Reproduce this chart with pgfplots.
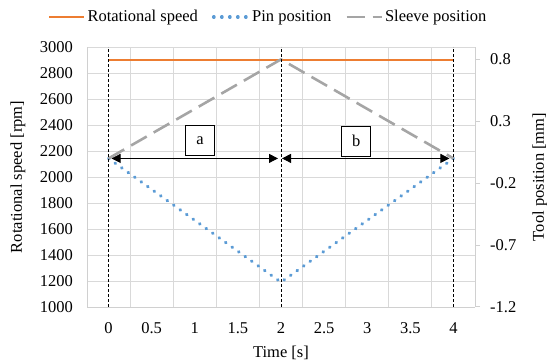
\documentclass[border=0pt]{standalone}
\usepackage{fontspec}
\setmainfont{Liberation Serif}
\usepackage{pgfplots}
\pgfplotsset{compat=1.18}
\usetikzlibrary{arrows.meta}
\definecolor{cOrange}{HTML}{ED7D31}
\definecolor{cBlue}{HTML}{5B9BD5}
\definecolor{cGray}{HTML}{A5A5A5}
\definecolor{cGrid}{HTML}{D9D9D9}
\definecolor{cAxis}{HTML}{D0D0D0}
\newcommand{\chartfont}{\fontsize{16.5bp}{19.8bp}\selectfont}
\begin{document}
\begin{tikzpicture}[font=\chartfont]
\useasboundingbox (0,0) rectangle (547bp,363bp);
\pgfplotsset{
  base/.style={
    scale only axis, width=388bp, height=260bp,
    at={(87bp,56bp)}, anchor=south west,
    xmin=-0.25, xmax=4.25,
    /pgf/number format/assume math mode=true,
    /pgf/number format/1000 sep={},
    ticklabel style={font=\chartfont},
    label style={font=\chartfont},
    axis line style={draw=cAxis, line width=1bp, -},
  }
}
\begin{axis}[base,
  axis x line*=bottom, axis y line*=left,
  ymin=1000, ymax=3000, ytick={1000,1200,...,3000},
  xtick={0,0.5,1,1.5,2,2.5,3,3.5,4},
  minor xtick={0.25,0.75,1.25,1.75,2.25,2.75,3.25,3.75},
  xminorgrids, ymajorgrids,
  grid style={draw=cGrid, line width=0.9bp},
  minor grid style={draw=cGrid, line width=0.9bp},
  major tick length=0pt, minor tick length=0pt,
  xticklabel style={inner sep=0pt, anchor=north}, xticklabel shift=15bp,
  yticklabel style={inner sep=0pt, anchor=east}, yticklabel shift=14bp,
  xlabel={Time [s]}, ylabel={Rotational speed [rpm]},
  xlabel style={at={(axis description cs:0.5,-0.177)}, anchor=center},
  ylabel style={at={(axis description cs:-0.178,0.5)}, anchor=center},
]
\addplot[cOrange, line width=2.3bp] coordinates {(0,2900) (4,2900)};
\end{axis}
\begin{axis}[base,
  axis x line=none, axis y line*=right,
  ymin=-1.2, ymax=0.9, ytick={-1.2,-0.7,-0.2,0.3,0.8},
  yticklabel style={inner sep=0pt, anchor=west, /pgf/number format/fixed, /pgf/number format/fixed zerofill, /pgf/number format/precision=1},
  ytick style={draw=cAxis, line width=1bp}, tick align=outside, major tick length=5bp,
  yticklabel shift=10bp,
  ylabel={Tool position [mm]},
  ylabel style={at={(axis description cs:1.1675,0.5)}, anchor=center},
  legend columns=3,
  legend style={at={(axis description cs:-0.1005,1.1154)}, anchor=west, draw=none, fill=none, inner sep=0pt,
    /tikz/every even column/.append style={column sep=12bp}, nodes={inner sep=2bp}},
  legend image code/.code={\draw[#1] (0bp,0bp) -- (35bp,0bp);},
]
\addlegendimage{cOrange, line width=2.3bp}
\addlegendentry{Rotational speed}
\addplot[cBlue, line width=3.2bp, line cap=round, dash pattern=on 0.6bp off 7.4bp] coordinates {(0,0) (2,-1) (4,0)};
\addlegendentry{Pin position}
\addplot[cGray, line width=2.6bp, dash pattern=on 18bp off 8bp] coordinates {(0,0) (2,0.8) (4,0)};
\addlegendentry{Sleeve position}
\addplot[black, line width=0.8bp, dash pattern=on 3bp off 2bp, forget plot] coordinates {(0,-1.2) (0,0.9)};
\addplot[black, line width=0.8bp, dash pattern=on 3bp off 2bp, forget plot] coordinates {(2,-1.2) (2,0.9)};
\addplot[black, line width=0.8bp, dash pattern=on 3bp off 2bp, forget plot] coordinates {(4,-1.2) (4,0.9)};
\addplot[black, line width=0.8bp, {Triangle[length=9bp,width=9bp]}-{Triangle[length=9bp,width=9bp]}, shorten <=3bp, shorten >=3bp, forget plot] coordinates {(0,0) (2,0)};
\addplot[black, line width=0.8bp, {Triangle[length=9bp,width=9bp]}-{Triangle[length=9bp,width=9bp]}, shorten <=1bp, shorten >=4bp, forget plot] coordinates {(2,0) (4,0)};
\node[draw=black, fill=white, line width=0.8bp, minimum width=29bp, minimum height=30bp, inner sep=0pt] at (axis cs:1.06,0.145) {a};
\node[draw=black, fill=white, line width=0.8bp, minimum width=29bp, minimum height=30bp, inner sep=0pt] at (axis cs:2.872,0.14) {b};
\end{axis}
\end{tikzpicture}
\end{document}
